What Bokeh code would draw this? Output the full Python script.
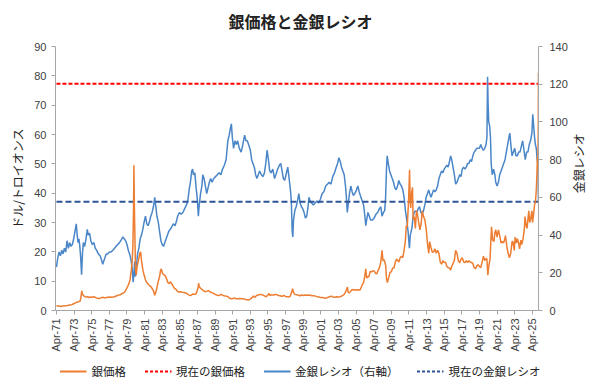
import math
from bokeh.plotting import figure
from bokeh.layouts import column, row
from bokeh.models import (Range1d, LinearAxis, FixedTicker, Legend, LegendItem)
from bokeh.core.properties import value
from bokeh.embed import file_html
from bokeh.resources import INLINE

# ---------------- data ----------------
silver_dates = [
    1971.25, 1971.5, 1971.75, 1972.0, 1972.25, 1972.5, 1972.75, 1973.0, 1973.2, 1973.4,
    1973.6, 1973.8, 1973.95, 1974.05, 1974.12, 1974.2, 1974.35, 1974.5, 1974.65, 1974.8,
    1974.95, 1975.1, 1975.3, 1975.5, 1975.7, 1975.9, 1976.1, 1976.3, 1976.5, 1976.7,
    1976.9, 1977.1, 1977.3, 1977.5, 1977.7, 1977.9, 1978.1, 1978.3, 1978.5, 1978.7,
    1978.9, 1979.1, 1979.3, 1979.45, 1979.6, 1979.75, 1979.85, 1979.92, 1980.0, 1980.04,
    1980.08, 1980.12, 1980.17, 1980.22, 1980.3, 1980.4, 1980.55, 1980.7, 1980.8, 1980.9,
    1981.05, 1981.2, 1981.35, 1981.5, 1981.65, 1981.8, 1981.95, 1982.1, 1982.25, 1982.4,
    1982.55, 1982.7, 1982.85, 1982.95, 1983.05, 1983.15, 1983.3, 1983.45, 1983.6, 1983.75,
    1983.9, 1984.05, 1984.2, 1984.35, 1984.5, 1984.65, 1984.8, 1984.95, 1985.1, 1985.3,
    1985.5, 1985.7, 1985.9, 1986.1, 1986.3, 1986.5, 1986.7, 1986.9, 1987.05, 1987.2,
    1987.33, 1987.38, 1987.45, 1987.6, 1987.75, 1987.9, 1988.05, 1988.2, 1988.35, 1988.5,
    1988.65, 1988.8, 1988.95, 1989.1, 1989.3, 1989.5, 1989.7, 1989.9, 1990.05, 1990.25,
    1990.45, 1990.65, 1990.85, 1991.05, 1991.25, 1991.45, 1991.65, 1991.85, 1992.05, 1992.25,
    1992.45, 1992.65, 1992.85, 1993.05, 1993.25, 1993.45, 1993.6, 1993.75, 1993.9, 1994.05,
    1994.25, 1994.45, 1994.65, 1994.85, 1995.05, 1995.25, 1995.35, 1995.5, 1995.7, 1995.9,
    1996.05, 1996.25, 1996.45, 1996.65, 1996.85, 1997.05, 1997.25, 1997.45, 1997.65, 1997.8,
    1997.95, 1998.05, 1998.15, 1998.3, 1998.5, 1998.7, 1998.9, 1999.05, 1999.25, 1999.45,
    1999.65, 1999.85, 2000.05, 2000.25, 2000.45, 2000.65, 2000.85, 2001.05, 2001.25, 2001.45,
    2001.65, 2001.85, 2002.05, 2002.25, 2002.45, 2002.65, 2002.85, 2003.05, 2003.25, 2003.45,
    2003.65, 2003.85, 2004.0, 2004.15, 2004.27, 2004.35, 2004.5, 2004.65, 2004.8, 2004.95,
    2005.1, 2005.3, 2005.5, 2005.7, 2005.85, 2005.95, 2006.1, 2006.25, 2006.35, 2006.45,
    2006.55, 2006.7, 2006.85, 2007.0, 2007.15, 2007.3, 2007.45, 2007.6, 2007.75, 2007.9,
    2008.05, 2008.2, 2008.3, 2008.45, 2008.6, 2008.7, 2008.8, 2008.95, 2009.1, 2009.25,
    2009.4, 2009.55, 2009.7, 2009.85, 2009.95, 2010.1, 2010.25, 2010.4, 2010.55, 2010.7,
    2010.85, 2010.95, 2011.05, 2011.2, 2011.32, 2011.38, 2011.45, 2011.55, 2011.65, 2011.72,
    2011.85, 2011.98, 2012.1, 2012.2, 2012.35, 2012.5, 2012.65, 2012.75, 2012.9, 2013.05,
    2013.2, 2013.35, 2013.5, 2013.6, 2013.75, 2013.9, 2014.05, 2014.2, 2014.35, 2014.5,
    2014.65, 2014.8, 2014.95, 2015.1, 2015.25, 2015.4, 2015.55, 2015.7, 2015.85, 2015.98,
    2016.1, 2016.25, 2016.4, 2016.55, 2016.7, 2016.85, 2017.0, 2017.15, 2017.3, 2017.45,
    2017.6, 2017.75, 2017.9, 2018.05, 2018.2, 2018.35, 2018.5, 2018.65, 2018.8, 2018.95,
    2019.1, 2019.25, 2019.4, 2019.55, 2019.7, 2019.85, 2020.0, 2020.1, 2020.2, 2020.3,
    2020.45, 2020.55, 2020.62, 2020.75, 2020.9, 2021.0, 2021.1, 2021.25, 2021.4, 2021.55,
    2021.7, 2021.85, 2021.98, 2022.1, 2022.2, 2022.35, 2022.5, 2022.65, 2022.8, 2022.95,
    2023.05, 2023.2, 2023.3, 2023.45, 2023.55, 2023.7, 2023.8, 2023.95, 2024.05, 2024.2,
    2024.35, 2024.42, 2024.55, 2024.65, 2024.75, 2024.85, 2024.95, 2025.05, 2025.2, 2025.28,
    2025.4, 2025.5, 2025.6, 2025.7, 2025.78, 2025.82, 2025.86, 2025.89, 2025.91, 2025.93,
    2025.945, 2025.95,
]
silver_price = [
    1.6, 1.5, 1.4, 1.5, 1.6, 1.7, 1.9, 2.0, 2.3, 2.6,
    2.9, 3.0, 3.3, 5.0, 6.7, 5.5, 5.0, 4.7, 4.6, 4.7,
    4.4, 4.6, 4.5, 4.7, 4.4, 4.2, 4.1, 4.3, 4.5, 4.3,
    4.4, 4.5, 4.6, 4.5, 4.6, 4.8, 5.0, 5.3, 5.4, 5.8,
    6.0, 6.8, 8.0, 9.0, 10.5, 14.0, 17.0, 22.0, 35.0, 49.5,
    38.0, 30.0, 22.0, 14.0, 12.0, 15.0, 17.0, 19.5, 20.0, 17.0,
    14.0, 12.0, 10.5, 9.5, 9.0, 8.5, 8.2, 7.5, 6.8, 5.2,
    6.5, 8.5, 10.5, 11.5, 13.5, 14.2, 12.5, 12.2, 11.8, 10.8,
    9.5, 9.2, 9.8, 9.0, 8.2, 7.5, 7.3, 6.6, 6.3, 6.4,
    6.2, 6.1, 6.0, 5.7, 5.2, 5.1, 5.6, 5.5, 5.6, 6.5,
    8.0, 9.3, 8.2, 7.6, 7.2, 6.8, 6.5, 6.5, 6.6, 6.8,
    6.4, 6.2, 6.0, 5.8, 5.4, 5.2, 5.1, 5.5, 5.3, 5.0,
    4.9, 4.8, 4.3, 4.0, 4.0, 4.3, 4.0, 4.0, 4.1, 4.0,
    4.0, 3.8, 3.7, 3.6, 3.9, 4.4, 5.0, 4.4, 5.0, 5.2,
    5.4, 5.5, 5.3, 5.0, 4.7, 5.3, 5.8, 5.1, 5.4, 5.2,
    5.5, 5.4, 5.1, 5.0, 4.8, 5.1, 4.8, 4.7, 4.6, 5.0,
    6.5, 7.4, 6.2, 5.5, 5.4, 5.2, 5.0, 5.3, 5.1, 5.3,
    5.2, 5.3, 5.2, 5.0, 5.0, 4.9, 4.7, 4.6, 4.4, 4.4,
    4.3, 4.2, 4.5, 4.7, 4.9, 4.6, 4.5, 4.7, 4.6, 4.7,
    5.0, 5.3, 6.0, 7.0, 8.0, 6.2, 6.0, 6.6, 7.2, 7.0,
    7.1, 7.0, 7.1, 7.0, 8.0, 8.8, 9.5, 12.0, 14.2, 11.0,
    11.5, 11.5, 13.3, 13.2, 13.5, 13.5, 12.7, 12.5, 13.7, 14.6,
    16.5, 20.5, 17.0, 17.2, 15.5, 11.0, 9.5, 11.2, 13.0, 13.2,
    14.5, 14.5, 16.5, 17.5, 17.2, 16.5, 18.0, 18.5, 18.0, 20.5,
    24.0, 29.0, 28.5, 37.0, 48.0, 38.0, 35.0, 40.0, 42.0, 31.0,
    32.0, 28.0, 34.0, 33.0, 30.0, 27.5, 30.0, 34.0, 32.0, 31.0,
    28.0, 23.0, 19.5, 23.5, 21.5, 19.8, 20.0, 21.0, 19.5, 20.5,
    19.5, 16.5, 15.8, 17.0, 16.3, 16.5, 15.0, 14.6, 14.5, 13.8,
    15.0, 16.0, 17.0, 20.5, 19.5, 17.0, 16.2, 17.5, 18.0, 16.6,
    16.3, 17.0, 16.3, 17.0, 16.5, 16.4, 16.0, 14.6, 14.3, 15.2,
    15.6, 15.0, 14.6, 16.5, 18.5, 17.0, 17.8, 17.5, 12.0, 15.0,
    17.5, 24.0, 28.5, 24.0, 23.5, 26.5, 27.5, 25.0, 27.5, 25.5,
    23.0, 23.5, 23.0, 24.0, 25.5, 22.0, 19.5, 18.0, 19.5, 23.5,
    23.5, 20.5, 25.0, 23.0, 24.5, 23.0, 21.0, 24.0, 22.5, 24.5,
    28.0, 32.0, 29.0, 28.0, 31.0, 34.0, 30.0, 31.0, 34.0, 30.0,
    33.0, 36.0, 37.0, 41.0, 47.0, 52.0, 48.0, 54.0, 58.0, 66.0,
    81.0, 77.3,
]

ratio_dates = [
    1971.25, 1971.4, 1971.55, 1971.7, 1971.85, 1972.0, 1972.15, 1972.3, 1972.45, 1972.6,
    1972.75, 1972.9, 1973.05, 1973.2, 1973.35, 1973.5, 1973.6, 1973.7, 1973.8, 1973.9,
    1974.0, 1974.1, 1974.2, 1974.3, 1974.45, 1974.6, 1974.75, 1974.85, 1975.0, 1975.15,
    1975.3, 1975.5, 1975.65, 1975.8, 1976.0, 1976.2, 1976.35, 1976.5, 1976.6, 1976.75,
    1976.9, 1977.05, 1977.25, 1977.45, 1977.65, 1977.85, 1978.0, 1978.2, 1978.4, 1978.6,
    1978.8, 1978.95, 1979.1, 1979.25, 1979.4, 1979.55, 1979.7, 1979.85, 1979.95, 1980.05,
    1980.12, 1980.2, 1980.3, 1980.45, 1980.6, 1980.75, 1980.9, 1981.05, 1981.2, 1981.35,
    1981.5, 1981.65, 1981.8, 1981.95, 1982.1, 1982.25, 1982.4, 1982.5, 1982.65, 1982.8,
    1982.95, 1983.1, 1983.25, 1983.4, 1983.55, 1983.7, 1983.85, 1984.0, 1984.15, 1984.3,
    1984.5, 1984.7, 1984.85, 1985.0, 1985.2, 1985.4, 1985.6, 1985.8, 1986.0, 1986.15,
    1986.3, 1986.45, 1986.6, 1986.7, 1986.8, 1986.95, 1987.1, 1987.25, 1987.35, 1987.45,
    1987.6, 1987.75, 1987.85, 1988.0, 1988.15, 1988.3, 1988.45, 1988.6, 1988.75, 1988.9,
    1989.1, 1989.3, 1989.5, 1989.7, 1989.9, 1990.1, 1990.3, 1990.5, 1990.7, 1990.85,
    1991.0, 1991.1, 1991.2, 1991.35, 1991.5, 1991.65, 1991.8, 1992.0, 1992.2, 1992.4,
    1992.6, 1992.75, 1992.9, 1993.05, 1993.25, 1993.4, 1993.55, 1993.7, 1993.85, 1994.0,
    1994.15, 1994.3, 1994.5, 1994.7, 1994.85, 1995.0, 1995.15, 1995.3, 1995.45, 1995.6,
    1995.8, 1996.0, 1996.15, 1996.35, 1996.55, 1996.7, 1996.85, 1997.0, 1997.15, 1997.3,
    1997.5, 1997.65, 1997.8, 1997.9, 1998.0, 1998.07, 1998.15, 1998.3, 1998.45, 1998.6,
    1998.75, 1998.9, 1999.05, 1999.2, 1999.35, 1999.5, 1999.65, 1999.8, 1999.9, 2000.05,
    2000.2, 2000.4, 2000.6, 2000.8, 2001.0, 2001.2, 2001.4, 2001.6, 2001.8, 2002.0,
    2002.2, 2002.4, 2002.6, 2002.8, 2003.0, 2003.15, 2003.3, 2003.45, 2003.6, 2003.75,
    2003.9, 2004.05, 2004.15, 2004.25, 2004.35, 2004.5, 2004.65, 2004.8, 2004.95, 2005.1,
    2005.3, 2005.45, 2005.6, 2005.8, 2005.95, 2006.1, 2006.25, 2006.35, 2006.45, 2006.6,
    2006.75, 2006.9, 2007.1, 2007.3, 2007.5, 2007.7, 2007.9, 2008.05, 2008.2, 2008.35,
    2008.5, 2008.6, 2008.7, 2008.78, 2008.9, 2009.05, 2009.2, 2009.35, 2009.5, 2009.65,
    2009.8, 2009.95, 2010.1, 2010.25, 2010.4, 2010.55, 2010.7, 2010.85, 2011.0, 2011.15,
    2011.3, 2011.4, 2011.5, 2011.6, 2011.7, 2011.85, 2012.0, 2012.15, 2012.3, 2012.45,
    2012.6, 2012.75, 2012.9, 2013.05, 2013.2, 2013.35, 2013.5, 2013.6, 2013.75, 2013.9,
    2014.05, 2014.2, 2014.35, 2014.5, 2014.65, 2014.8, 2014.95, 2015.1, 2015.25, 2015.4,
    2015.55, 2015.7, 2015.85, 2015.98, 2016.1, 2016.25, 2016.4, 2016.55, 2016.7, 2016.85,
    2017.0, 2017.15, 2017.3, 2017.45, 2017.6, 2017.75, 2017.9, 2018.05, 2018.2, 2018.35,
    2018.5, 2018.65, 2018.8, 2018.95, 2019.1, 2019.25, 2019.4, 2019.55, 2019.7, 2019.85,
    2020.0, 2020.1, 2020.17, 2020.23, 2020.3, 2020.4, 2020.5, 2020.58, 2020.7, 2020.85,
    2021.0, 2021.1, 2021.25, 2021.4, 2021.55, 2021.7, 2021.85, 2022.0, 2022.15, 2022.3,
    2022.45, 2022.6, 2022.7, 2022.85, 2022.95, 2023.1, 2023.25, 2023.4, 2023.55, 2023.7,
    2023.85, 2024.0, 2024.15, 2024.3, 2024.45, 2024.6, 2024.75, 2024.9, 2025.05, 2025.2,
    2025.3, 2025.4, 2025.5, 2025.6, 2025.7, 2025.8, 2025.87, 2025.91, 2025.93, 2025.95,
]
ratio_values = [
    23, 28, 31, 29, 32, 30, 33, 31, 37, 33,
    36, 34, 35, 38, 42, 46, 40, 36, 38, 34,
    28, 19, 30, 36, 34, 38, 43, 40, 41, 37,
    35, 36, 33, 32, 30, 29, 27, 24.5, 26, 28,
    30, 30, 31, 31, 32, 33, 34, 35, 36, 37.5,
    39, 38, 37, 35, 32, 30, 27, 22, 15, 20,
    26, 18, 22, 30, 33, 38, 40, 43, 47, 50,
    46, 45, 47, 50, 52, 55, 60, 56, 50, 47,
    42, 37, 35, 34, 36, 38, 40, 42, 43, 44,
    46, 45, 47, 50, 52, 51, 52, 54, 56, 58,
    64, 68, 74, 75, 72, 73, 65, 58, 50, 56,
    62, 66, 72, 70, 66, 62, 65, 68, 70, 68,
    70, 71, 72, 73, 72, 75, 77, 80, 90, 93,
    97, 99, 92, 86, 90, 88, 90, 86, 84, 88,
    93, 90, 90, 88, 85, 80, 78, 76, 72, 70,
    72, 74, 72, 71, 73, 78, 85, 80, 74, 73,
    75, 70, 72, 75, 77, 78, 74, 70, 69, 72,
    76, 70, 64, 58, 42, 39, 48, 53, 55, 58,
    62, 57, 55, 54, 52, 49, 50, 55, 60, 58,
    57, 56, 57, 58, 57, 59, 62, 63, 66, 67,
    68, 67, 71, 73, 76, 78, 81, 79, 76, 74,
    72, 66, 60, 52, 56, 62, 66, 63, 61, 62,
    64, 66, 63, 60, 58, 56, 50, 45, 48, 52,
    50, 48, 48, 49, 51, 52, 54, 55, 50, 52,
    53, 60, 75, 82, 78, 74, 72, 70, 68, 65,
    64, 66, 69, 67, 66, 64, 60, 53, 48, 42,
    33, 40, 42, 44, 49, 52, 53, 52, 54, 55,
    52, 51, 53, 56, 60, 62, 64, 62, 60, 62,
    64, 63, 64, 66, 70, 72, 74, 73, 75, 76,
    77, 76, 79, 82, 80, 76, 72, 67, 68, 70,
    72, 71, 75, 76, 75, 76, 78, 78, 80, 79,
    82, 84, 85, 86, 86, 86, 88, 86, 85, 86,
    88, 92, 124, 110, 100, 98, 92, 78, 72, 75,
    72, 68, 66, 68, 72, 74, 76, 78, 80, 84,
    88, 92, 94, 86, 82, 84, 86, 82, 82, 84,
    84, 87, 90, 85, 80, 84, 84, 88, 90, 94,
    104, 98, 92, 88, 86, 80, 78, 70, 62, 57.7,
]

current_silver = 77.3       # 現在の銀価格 (left axis)
current_ratio = 57.7        # 現在の金銀レシオ (right axis)

left_ticks = [0, 10, 20, 30, 40, 50, 60, 70, 80, 90]
right_ticks = [0, 20, 40, 60, 80, 100, 120, 140]
tick_years = list(range(1971, 2026, 2))
tick_labels = ["Apr-%02d" % (y % 100) for y in tick_years]

title_text = "銀価格と金銀レシオ"
left_label = "ドル/トロイオンス"
right_label = "金銀レシオ"
legend_labels = ["銀価格", "現在の銀価格", "金銀レシオ（右軸）", "現在の金銀レシオ"]

# ---------------- styles / layout ----------------
ORANGE = "#ED7D31"
BLUE = "#4A86C8"
RED = "#FF0000"
NAVY = "#2E5597"
AXIS_GRAY = "#A6A6A6"
TXT = "#404040"
JP = "Noto Sans CJK JP"
NUM = "Liberation Sans"

tick_pos = [y + 0.25 for y in tick_years]

W = 600
HT = 40                   # title strip
H1 = 314                  # main plot
H2 = 34                   # legend strip
WR = 30                   # strip holding the right-axis title
FRAME_TOP, FRAME_BOT = 6, 272     # frame edges inside the main plot
FRAME_RIGHT = 538
RLAB_X = 8


def strip(width, height):
    f = figure(width=width, height=height, output_backend="svg", toolbar_location=None,
               x_axis_type=None, y_axis_type=None,
               x_range=Range1d(0, width), y_range=Range1d(0, height),
               min_border_left=0, min_border_right=0, min_border_top=0, min_border_bottom=0)
    f.outline_line_color = None
    f.xgrid.visible = False
    f.ygrid.visible = False
    f.border_fill_color = "white"
    f.background_fill_color = "white"
    return f


# ---------------- title strip ----------------
t = strip(W, HT)
t.text(x=[W / 2], y=[HT / 2], text=[title_text],
       text_align="center", text_baseline="middle",
       text_font=value(JP), text_font_size="16px", text_font_style="bold",
       text_color="#222222")

# ---------------- main plot ----------------
p = figure(width=W - WR, height=H1,
           x_range=Range1d(1971.14, 2025.95), y_range=Range1d(0, 90),
           output_backend="svg", toolbar_location=None,
           min_border_left=55, min_border_right=W - WR - FRAME_RIGHT,
           min_border_top=FRAME_TOP, min_border_bottom=H1 - FRAME_BOT)
p.extra_y_ranges = {"ratio": Range1d(0, 140)}
p.outline_line_color = None
p.xgrid.visible = False
p.ygrid.visible = False
p.background_fill_color = "white"
p.border_fill_color = "white"

# x axis
xa = p.xaxis[0]
xa.ticker = FixedTicker(ticks=tick_pos)
xa.major_label_overrides = {t_: l for t_, l in zip(tick_pos, tick_labels)}
xa.major_label_orientation = math.pi / 2
xa.major_label_text_font = NUM
xa.major_label_text_font_size = "11px"
xa.major_label_text_color = TXT
xa.axis_line_color = AXIS_GRAY
xa.major_tick_line_color = AXIS_GRAY
xa.major_tick_out = 4
xa.major_tick_in = 0
xa.minor_tick_line_color = None
xa.major_label_standoff = 4

# left axis
ya = p.yaxis[0]
ya.ticker = FixedTicker(ticks=left_ticks)
ya.major_label_text_font = NUM
ya.major_label_text_font_size = "11px"
ya.major_label_text_color = TXT
ya.axis_line_color = AXIS_GRAY
ya.major_tick_line_color = AXIS_GRAY
ya.major_tick_out = 4
ya.major_tick_in = 0
ya.minor_tick_line_color = None
ya.axis_label = left_label
ya.axis_label_text_font = JP
ya.axis_label_text_font_size = "12px"
ya.axis_label_text_font_style = "normal"
ya.axis_label_text_color = "#222222"
ya.axis_label_standoff = 5

# right axis
ra = LinearAxis(y_range_name="ratio", ticker=FixedTicker(ticks=right_ticks))
ra.major_label_text_font = NUM
ra.major_label_text_font_size = "11px"
ra.major_label_text_color = TXT
ra.axis_line_color = AXIS_GRAY
ra.major_tick_line_color = AXIS_GRAY
ra.major_tick_out = 4
ra.major_tick_in = 0
ra.minor_tick_line_color = None
ra.major_label_standoff = 7
p.add_layout(ra, "right")

# series
x0, x1 = silver_dates[0], silver_dates[-1]
r_blue = p.line(ratio_dates, ratio_values, y_range_name="ratio",
                line_color=BLUE, line_width=1.5)
r_navy = p.line([x0, x1], [current_ratio, current_ratio], y_range_name="ratio",
                line_color=NAVY, line_width=2, line_dash="6 3")
r_red = p.line([x0, x1], [current_silver, current_silver],
               line_color=RED, line_width=2, line_dash="4 2")
r_orange = p.line(silver_dates, silver_price, line_color=ORANGE, line_width=1.5)

# ---------------- right-axis title strip (reads bottom-to-top) ----------------
r = strip(WR, H1)
r.text(x=[RLAB_X], y=[H1 - (FRAME_TOP + FRAME_BOT) / 2], text=[right_label],
       angle=math.pi / 2, text_align="center", text_baseline="middle",
       text_font=value(JP), text_font_size="12px", text_color="#222222")

# ---------------- legend strip ----------------
q = strip(W, H2)
nan = float("nan")
l_orange = q.line([nan], [nan], line_color=ORANGE, line_width=2)
l_red = q.line([nan], [nan], line_color=RED, line_width=2, line_dash="3 2")
l_blue = q.line([nan], [nan], line_color=BLUE, line_width=2)
l_navy = q.line([nan], [nan], line_color=NAVY, line_width=2, line_dash="3 2")

legend = Legend(items=[
    LegendItem(label=legend_labels[0], renderers=[l_orange]),
    LegendItem(label=legend_labels[1], renderers=[l_red]),
    LegendItem(label=legend_labels[2], renderers=[l_blue]),
    LegendItem(label=legend_labels[3], renderers=[l_navy]),
], orientation="horizontal", location="center")
legend.label_text_font = JP
legend.label_text_font_size = "11.5px"
legend.label_text_color = "#222222"
legend.glyph_width = 27
legend.glyph_height = 14
legend.label_standoff = 5
legend.spacing = 18
legend.padding = 2
legend.margin = 0
legend.border_line_color = None
legend.background_fill_alpha = 0
q.add_layout(legend)

layout = column(t, row(p, r, spacing=0), q, spacing=0)
open("out.html", "w").write(file_html(layout, INLINE))
